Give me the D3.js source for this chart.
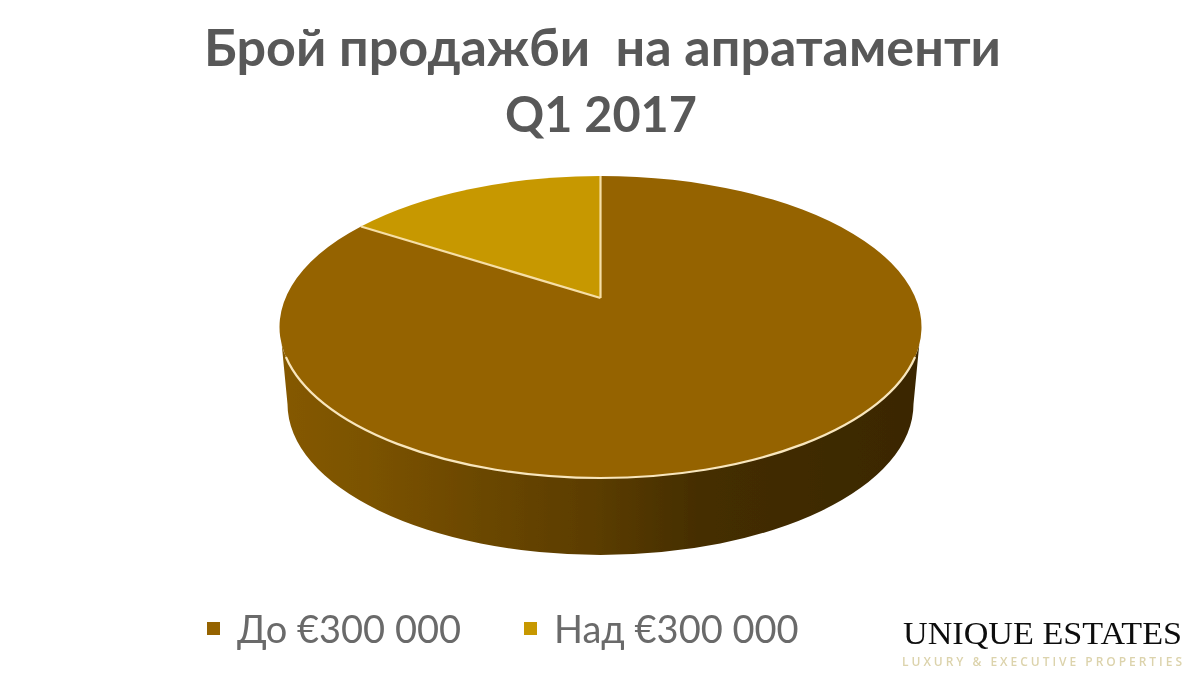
<!DOCTYPE html>
<html><head><meta charset="utf-8">
<script src="https://cdnjs.cloudflare.com/ajax/libs/d3/7.8.5/d3.min.js"></script>
<style>html,body{margin:0;background:#fff}svg{display:block}</style>
</head><body><svg id="c" width="1200" height="684"></svg>
<script>
const categories = ["До €300 000", "Над €300 000"];
const values = [85.6, 14.4];
const colors = ["#956300", "#c79800"];
const titleLines = ["Брой продажби  на апратаменти", "Q1 2017"];
const svg = d3.select("#c");
const sans = "Lato, 'Open Sans', sans-serif";
const cx = 600.5, cy = 327, rx = 321, ry = 151, apexY = 298;
const defs = svg.append("defs");
defs.append("filter").attr("id","soft").append("feGaussianBlur").attr("stdDeviation",0.7);
const g = defs.append("linearGradient").attr("id","side").attr("gradientUnits","userSpaceOnUse")
  .attr("x1",cx-rx).attr("x2",cx+rx).attr("y1",0).attr("y2",0);
[[0,"#855900"],[0.15,"#7a5200"],[0.3,"#6c4800"],[0.5,"#5a3c00"],[0.65,"#452e00"],[0.85,"#3e2a00"],[1,"#3a2700"]]
  .forEach(d=>g.append("stop").attr("offset",d[0]).attr("stop-color",d[1]));
const arcs = d3.pie().sort(null).value(d=>d)(values);
// Rim point for a pie angle: cast a ray from the projected apex to the ellipse.
function rim(t){
  const dx = Math.sin(t)*rx, dy = -Math.cos(t)*(apexY-(cy-ry));
  const y0 = (apexY-cy)/ry, a = (dx/rx)**2+(dy/ry)**2, b = 2*y0*dy/ry, c = y0*y0-1;
  const s = (-b+Math.sqrt(b*b-4*a*c))/(2*a);
  return [cx+s*dx, apexY+s*dy];
}
// side wall: upper edge follows the lid, lower edge a narrower ellipse
const wallY = 345, rimY = 357, lowY = 404, lowRx = 313;
const edgeDx = y => rx*Math.sqrt(1-((y-cy)/ry)**2);
const wallDx = edgeDx(wallY), rimDx = edgeDx(rimY);
svg.append("path").attr("fill","url(#side)").attr("filter","url(#soft)")
  .attr("d",`M${cx+wallDx},${wallY}A${rx},${ry} 0 0 1 ${cx-wallDx},${wallY}L${cx-lowRx},${lowY}A${lowRx},${ry} 0 0 0 ${cx+lowRx},${lowY}Z`);
const lid = svg.append("g").attr("filter","url(#soft)");
const wedge = d=>{
  const p0 = rim(d.startAngle), p1 = rim(d.endAngle);
  return `M${cx},${apexY}L${p0[0]},${p0[1]}A${rx},${ry} 0 ${d.endAngle-d.startAngle>Math.PI?1:0} 1 ${p1[0]},${p1[1]}Z`;
};
lid.selectAll("path.w").data(arcs).join("path").attr("class","w")
  .attr("d",wedge).attr("fill",(d,i)=>colors[i]);
// cream separators and front rim
const cut = arcs.map(d=>rim(d.startAngle));
lid.selectAll("line").data(cut).join("line")
  .attr("x1",cx).attr("y1",apexY).attr("x2",d=>d[0]).attr("y2",d=>d[1])
  .attr("stroke","#f6dfa6").attr("stroke-width",2.2);
lid.append("path").attr("fill","none").attr("stroke","#f8e6bd").attr("stroke-width",2.2)
  .attr("d",`M${cx+rimDx},${rimY}A${rx},${ry} 0 0 1 ${cx-rimDx},${rimY}`);
// title
svg.append("g").attr("filter","url(#soft)").selectAll("text").data(titleLines).join("text")
  .attr("x",(d,i)=>i?505:204).attr("y",(d,i)=>i?132:66).attr("xml:space","preserve")
  .style("white-space","pre").style("font-family",sans)
  .attr("font-size",(d,i)=>i?50:52).attr("font-weight",700).attr("fill","#595959")
  .attr("textLength",(d,i)=>i?192:797).attr("lengthAdjust","spacingAndGlyphs").text(d=>d);
// legend
const lg = svg.append("g").attr("filter","url(#soft)");
const lxs = [[207,237],[524,554]];
categories.forEach((c,i)=>{
  lg.append("rect").attr("x",lxs[i][0]).attr("y",622).attr("width",13).attr("height",13).attr("fill",colors[i]);
  lg.append("text").attr("x",lxs[i][1]).attr("y",643).style("font-family",sans).attr("font-size",38).attr("fill","#6a6a6a").text(c);
});
// logo
const logo = svg.append("g").attr("filter","url(#soft)");
logo.append("text").attr("x",903).attr("y",644).style("font-family","'Liberation Serif',serif").attr("font-size",31).attr("fill","#111").attr("textLength",279).attr("lengthAdjust","spacingAndGlyphs").text("UNIQUE ESTATES");
logo.append("text").attr("x",902).attr("y",666).style("font-family","'Open Sans',sans-serif").attr("font-weight",600).attr("font-size",12).attr("fill","#dcd3ac").attr("textLength",280).text("LUXURY & EXECUTIVE PROPERTIES");
</script></body></html>
